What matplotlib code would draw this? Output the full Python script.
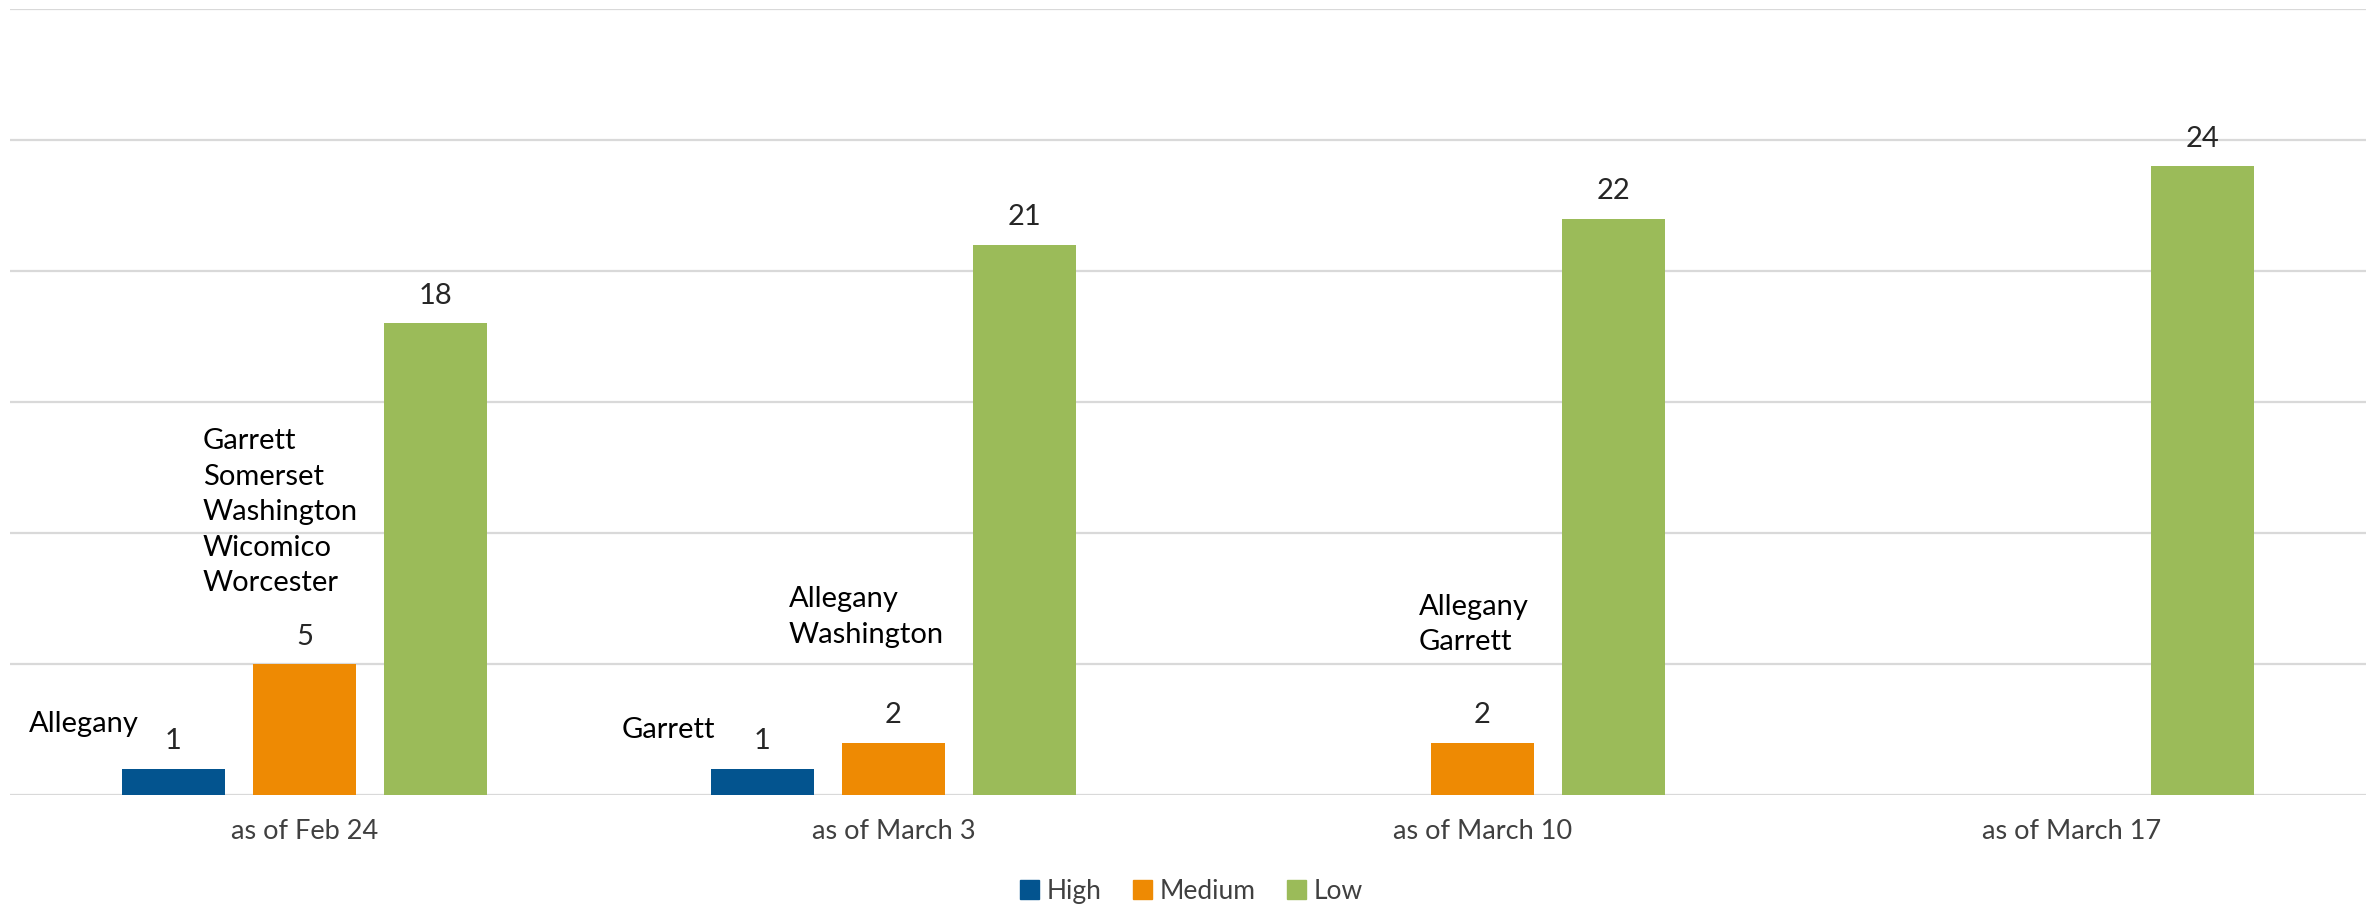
import numpy as np
import matplotlib.pyplot as plt
from matplotlib.patches import Patch

plt.rcParams['font.family'] = ['Lato', 'DejaVu Sans']

# data
dates = ['as of Feb 24', 'as of March 3', 'as of March 10', 'as of March 17']
levels = ['High', 'Medium', 'Low']
high = [1, 1, 0, 0]
medium = [5, 2, 2, 0]
low = [18, 21, 22, 24]
colors = ['#03548F', '#EE8A03', '#9BBB59']

# county notes: (category, x offset, y value, text, alignment)
notes = [
    (0, -0.375, 2.7, 'Allegany', 'center'),
    (0, -0.173, 10.8, 'Garrett\nSomerset\nWashington\nWicomico\nWorcester', 'left'),
    (1, -0.382, 2.5, 'Garrett', 'center'),
    (1, -0.178, 6.8, 'Allegany\nWashington', 'left'),
    (2, -0.108, 6.5, 'Allegany\nGarrett', 'left'),
]

fig = plt.figure(figsize=(23.69, 9.15), dpi=100)
ax = fig.add_axes([0.0042, 0.1311, 0.9945, 0.8591])

x = np.arange(len(dates))
w = 0.175
off = 0.223
series = [high, medium, low]
for i, vals in enumerate(series):
    bars = ax.bar(x + (i - 1) * off, vals, width=w, color=colors[i], zorder=3)
    for b, v in zip(bars, vals):
        if v > 0:
            ax.text(b.get_x() + b.get_width() / 2, v + 0.55, str(v),
                    ha='center', va='bottom', fontsize=21, color='#262626')

for cat, dx, yv, txt, ha in notes:
    ax.text(cat + dx, yv, txt, ha=ha, va='center', fontsize=21,
            color='black', linespacing=1.45)

ax.set_xlim(-0.5, 3.5)
ax.set_ylim(0, 30)
ax.set_yticks(np.arange(0, 31, 5))
ax.set_yticklabels([])
ax.tick_params(axis='y', length=0)
ax.grid(axis='y', color='#d9d9d9', linewidth=1.6, zorder=0)
ax.set_xticks(x)
ax.set_xticklabels(dates, fontsize=19.5, color='#404040')
ax.tick_params(axis='x', length=0, pad=17)
for s in ax.spines.values():
    s.set_visible(False)

handles = [Patch(color=c) for c in colors]
fig.legend(handles, levels, loc='center', bbox_to_anchor=(0.503, 0.026),
           ncol=3, frameon=False, fontsize=19, handlelength=0.7,
           handleheight=0.7, handletextpad=0.3, columnspacing=1.2,
           labelcolor='#404040')

fig.savefig('out.png', dpi=100)
